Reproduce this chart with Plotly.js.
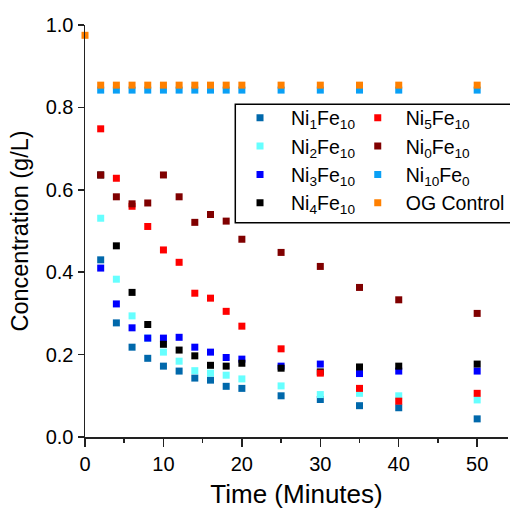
<!DOCTYPE html>
<html>
<head>
<meta charset="utf-8">
<script src="https://cdn.plot.ly/plotly-3.0.1.min.js"></script>
<style>html,body{margin:0;padding:0;background:#fff;}#chart{width:510px;height:509px;}</style>
</head>
<body>
<div id="chart"></div>
<script>
// Time (minutes)
var timeMin = [2, 4, 6, 8, 10, 12, 14, 16, 18, 20, 25, 30, 35, 40, 50];
var timeOG = [0, 2, 4, 6, 8, 10, 12, 14, 16, 18, 20, 25, 30, 35, 40, 50];

// Concentration (g/L)
var ni1fe10 = [0.430, 0.277, 0.218, 0.191, 0.172, 0.160, 0.143, 0.138, 0.123, 0.118, 0.100, 0.091, 0.076, 0.071, 0.044];
var ni2fe10 = [0.531, 0.383, 0.294, 0.240, 0.206, 0.184, 0.161, 0.155, 0.150, 0.141, 0.124, 0.103, 0.106, 0.100, 0.090];
var ni3fe10 = [0.410, 0.323, 0.265, 0.240, 0.240, 0.242, 0.218, 0.206, 0.193, 0.189, 0.172, 0.177, 0.154, 0.160, 0.160];
var ni4fe10 = [0.636, 0.464, 0.351, 0.273, 0.225, 0.211, 0.197, 0.174, 0.172, 0.179, 0.167, 0.158, 0.170, 0.172, 0.177];
var ni5fe10 = [0.748, 0.628, 0.560, 0.511, 0.454, 0.424, 0.349, 0.337, 0.305, 0.269, 0.214, 0.155, 0.118, 0.087, 0.106];
var ni0fe10 = [0.636, 0.583, 0.566, 0.568, 0.636, 0.583, 0.521, 0.540, 0.524, 0.480, 0.448, 0.414, 0.363, 0.333, 0.300];
var ni10fe0 = [0.842, 0.842, 0.842, 0.842, 0.842, 0.842, 0.842, 0.842, 0.842, 0.842, 0.842, 0.842, 0.842, 0.842, 0.842];
var ogControl = [0.975, 0.854, 0.854, 0.854, 0.854, 0.854, 0.854, 0.854, 0.854, 0.854, 0.854, 0.854, 0.854, 0.854, 0.854, 0.854];

var names = ['Ni<sub>1</sub>Fe<sub>10</sub>', 'Ni<sub>2</sub>Fe<sub>10</sub>', 'Ni<sub>3</sub>Fe<sub>10</sub>', 'Ni<sub>4</sub>Fe<sub>10</sub>',
             'Ni<sub>5</sub>Fe<sub>10</sub>', 'Ni<sub>0</sub>Fe<sub>10</sub>', 'Ni<sub>10</sub>Fe<sub>0</sub>', 'OG Control'];
var colors = ['#0068AB', '#66FFFF', '#0000FF', '#000000', '#FF0000', '#800000', '#0AA0F5', '#FF8000'];
var series = [ni1fe10, ni2fe10, ni3fe10, ni4fe10, ni5fe10, ni0fe10, ni10fe0, ogControl];
var xs = [timeMin, timeMin, timeMin, timeMin, timeMin, timeMin, timeMin, timeOG];

var FONT = 'Arial, "Liberation Sans", sans-serif';
var traces = series.map(function (s, i) {
  return {
    type: 'scatter', mode: 'markers', x: xs[i], y: s, name: names[i],
    legend: i < 4 ? 'legend' : 'legend2',
    marker: {symbol: 'square', size: 7, color: colors[i], line: {width: 0}},
    cliponaxis: false
  };
});

var legendCommon = {
  bgcolor: 'rgba(0,0,0,0)', borderwidth: 0, orientation: 'v',
  font: {family: FONT, size: 19.5, color: '#000'},
  yanchor: 'top', xanchor: 'left', y: 0.8216
};

var layout = {
  width: 510, height: 509,
  margin: {l: 85, r: 0, t: 25, b: 72},
  paper_bgcolor: '#fff', plot_bgcolor: '#fff',
  font: {family: FONT, color: '#000'},
  showlegend: true,
  legend: Object.assign({}, legendCommon, {x: (229.7 - 85) / 425, itemwidth: 52}),
  legend2: Object.assign({}, legendCommon, {x: (351 - 85) / 425, itemwidth: 46}),
  xaxis: {
    range: [0, 53.93], dtick: 10, tick0: 0,
    showgrid: false, zeroline: false, showline: true, linecolor: '#222', linewidth: 1.5,
    ticks: 'outside', ticklen: 8, tickwidth: 1.5, tickcolor: '#222',
    minor: {dtick: 5, ticks: 'outside', ticklen: 4, tickwidth: 1.5, tickcolor: '#222', showgrid: false},
    tickfont: {family: FONT, size: 20, color: '#000'},
    title: {text: 'Time (Minutes)', font: {family: FONT, size: 26, color: '#000'}, standoff: 14}
  },
  yaxis: {
    range: [0, 1.0], dtick: 0.2, tick0: 0, tickformat: '.1f',
    showgrid: false, zeroline: false, showline: true, linecolor: '#222', linewidth: 1.5,
    ticks: 'outside', ticklen: 6, tickwidth: 1.5, tickcolor: '#222',
    tickfont: {family: FONT, size: 20, color: '#000'},
    title: {text: 'Concentration (g/L)', font: {family: FONT, size: 23.5, color: '#000'}, standoff: 10}
  },
  shapes: [{
    type: 'rect', xref: 'paper', yref: 'paper', layer: 'below',
    x0: (236 - 85) / 425, x1: 1.03, y0: (437 - 222.7) / 412, y1: (437 - 104.3) / 412,
    line: {color: '#000', width: 1.5}, fillcolor: '#fff'
  }]
};

Plotly.newPlot('chart', traces, layout, {displayModeBar: false, staticPlot: true});
</script>
</body>
</html>
